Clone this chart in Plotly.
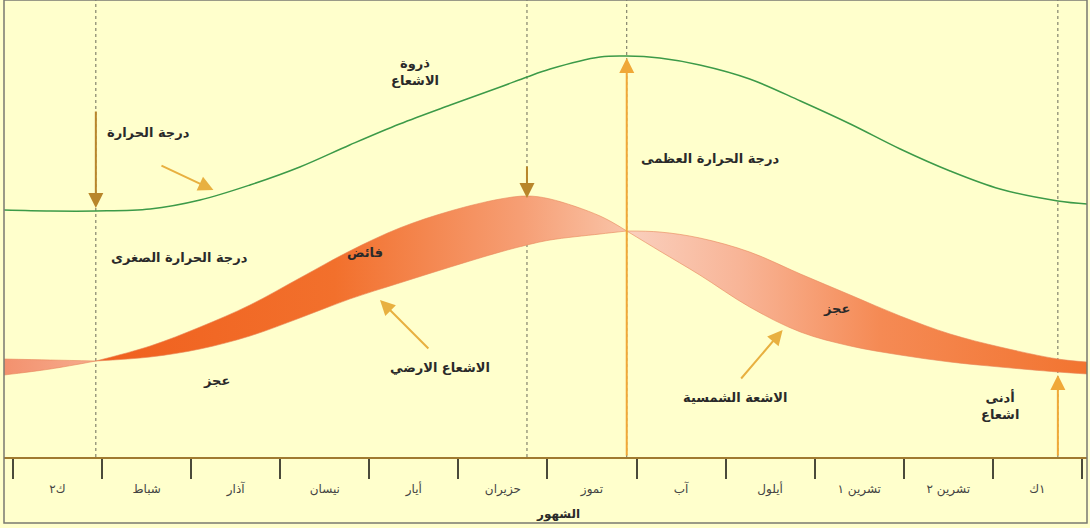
import plotly.graph_objects as go

# ---------------- data ----------------
month_labels = ["ك٢", "شباط", "آذار", "نيسان", "أيار", "حزيران",
                "تموز", "آب", "أيلول", "تشرين ١", "تشرين ٢", "١ك"]
month_bounds = list(range(13))
month_centers = [i + 0.5 for i in range(12)]

# time axis in months (0 = start of ك٢)
t = [-0.10, 0.42, 0.93, 1.54, 2.10, 2.66, 3.22, 3.78, 4.34, 4.91, 5.47, 5.77,
     6.03, 6.59, 6.89, 7.26, 7.71, 8.27, 8.84, 9.40, 9.96, 10.52, 11.08, 11.73, 12.06]
# temperature curve (green)
temperature = [247, 246, 246, 248, 257, 272, 290, 312, 333, 352, 370, 380,
               388, 400, 401, 399, 392, 378, 356, 333, 308, 286, 268, 256, 253]
# incoming solar radiation
solar = [82, 88, 96, 111, 130, 152, 179, 206, 229, 246, 258, 261,
         258, 241, 226, 206, 182, 150, 125, 111, 102, 95, 90, 85, 83]
# outgoing terrestrial radiation
terrestrial = [98, 97, 96, 100, 108, 121, 139, 158, 174, 190, 205, 212,
               217, 223, 226, 225, 219, 205, 183, 162, 141, 123, 110, 98, 95]

# key dates (months): min temp, max radiation, max temp, min radiation
key_dates = [0.93, 5.77, 6.89, 11.73]

FONT = "DejaVu Sans"
BG = "#FFFFCC"

fig = go.Figure()

def band(i0, i1, lower, upper, colors, start, stop):
    xs = t[i0:i1 + 1]
    fig.add_trace(go.Scatter(x=xs, y=lower[i0:i1 + 1], mode="lines",
                             line=dict(shape="spline", width=0.6, color="#E8865A"),
                             hoverinfo="skip", showlegend=False))
    fig.add_trace(go.Scatter(x=xs, y=upper[i0:i1 + 1], mode="lines",
                             line=dict(shape="spline", width=0.6, color="#E8865A"),
                             fill="tonexty",
                             fillgradient=dict(type="horizontal", colorscale=colors,
                                               start=start, stop=stop),
                             hoverinfo="skip", showlegend=False))

# left deficit (terrestrial above solar)
band(0, 2, solar, terrestrial,
     [[0, "#F3916E"], [1, "#F6AC8E"]], t[0], t[2])
# surplus (solar above terrestrial)
band(2, 14, terrestrial, solar,
     [[0, "#F0601E"], [0.45, "#F2702C"], [0.8, "#F69E74"], [1, "#F9C4A8"]], t[2], t[14])
# right deficit (terrestrial above solar)
band(14, 24, solar, terrestrial,
     [[0, "#FAD0BE"], [0.25, "#F8B496"], [0.55, "#F58A54"], [1, "#F27430"]], t[14], t[24])

# temperature line
fig.add_trace(go.Scatter(x=t, y=temperature, mode="lines",
                         line=dict(shape="spline", width=1.5, color="#3C9A48"),
                         hoverinfo="skip", showlegend=False))

# dotted key-date lines
for d in key_dates:
    fig.add_shape(type="line", xref="x", yref="paper", x0=d, x1=d, y0=0, y1=1,
                  line=dict(color="#6A6A5A", width=1, dash="dot"), layer="below")

# frame
fig.add_shape(type="rect", xref="paper", yref="paper", x0=0, x1=1, y0=-0.1444, y1=1,
              line=dict(color="#7A7A70", width=1.5))

# arrows: (tip_x, tip_y, tail_x, tail_y, color)
arrows = [
    (0.93, 249, 0.93, 347, "#B8862B"),
    (5.77, 259, 5.77, 292, "#B8862B"),
    (6.89, 399, 6.89, 0, "#F0A838"),
    (11.73, 82, 11.73, 0, "#F0A838"),
    (2.25, 267, 1.65, 292, "#E8B040"),
    (4.12, 157, 4.68, 107, "#E8B040"),
    (8.64, 127, 8.16, 77, "#E8B040"),
]
for x, y, ax, ay, c in arrows:
    fig.add_annotation(x=x, y=y, ax=ax, ay=ay, xref="x", yref="y", axref="x", ayref="y",
                       text="", showarrow=True, arrowhead=2, arrowsize=1.5,
                       arrowwidth=2, arrowcolor=c)

# text labels: (x, y, text)
texts = [
    (4.51, 385, "ذروة<br>الاشعاع"),
    (1.52, 325, "درجة الحرارة"),
    (1.87, 200, "درجة الحرارة الصغرى"),
    (3.95, 205, "فائض"),
    (2.29, 77, "عجز"),
    (4.79, 90, "الاشعاع الارضي"),
    (7.82, 299, "درجة الحرارة العظمى"),
    (9.25, 149, "عجز"),
    (8.11, 60, "الاشعة الشمسية"),
    (11.08, 52, "أدنى<br>اشعاع"),
]
for x, y, s in texts:
    fig.add_annotation(x=x, y=y, xref="x", yref="y", text="<b>" + s + "</b>",
                       showarrow=False, font=dict(family=FONT, size=13, color="#2A2A2A"))

fig.add_annotation(x=6.12, y=-0.146, xref="x", yref="paper", text="<b>الشهور</b>",
                   showarrow=False, font=dict(family=FONT, size=12, color="#2A2A2A"))

fig.update_layout(
    width=1090, height=528,
    margin=dict(l=4, r=3, t=0, b=71),
    paper_bgcolor=BG, plot_bgcolor=BG,
    showlegend=False,
    xaxis=dict(range=[-0.101, 12.057], showgrid=False, zeroline=False,
               tickmode="array", tickvals=month_centers, ticktext=month_labels,
               ticks="", ticklabelstandoff=20,
               tickfont=dict(family=FONT, size=12, color="#444"),
               showline=True, linecolor="#A07A30", linewidth=2,
               minor=dict(tickmode="array", tickvals=month_bounds, ticks="outside",
                          ticklen=20, tickwidth=2, tickcolor="#4A4A3A", showgrid=False)),
    yaxis=dict(range=[0, 457], visible=False, showgrid=False, zeroline=False),
)

fig.write_html("out.html", config={"displayModeBar": False},
               post_script="document.body.style.margin='0';")
